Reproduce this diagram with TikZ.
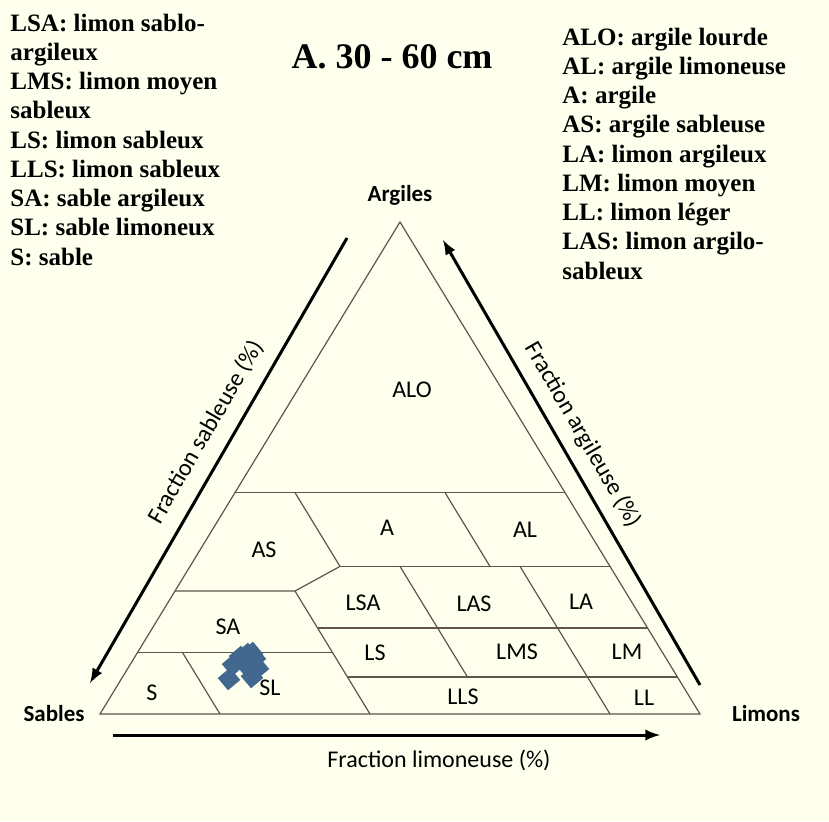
\documentclass[tikz,border=0pt]{standalone}
\usepackage{fontspec}
\setmainfont{Liberation Serif}
\newfontfamily\calibri{Carlito}
\definecolor{fond}{RGB}{255,255,238}
\definecolor{trait}{RGB}{95,85,75}
\definecolor{points}{RGB}{67,104,143}

\begin{document}
\begin{tikzpicture}[x=0.5pt,y=-0.5pt,
    legende/.style={anchor=base west,inner sep=0pt,font=\fontsize{12.5}{14.8}\selectfont\bfseries},
    classe/.style={font=\calibri\fontsize{12}{14}\selectfont},
    sommet/.style={font=\calibri\bfseries\fontsize{11.5}{14}\selectfont},
    axe/.style={->,>=latex,line width=1.5pt},
    limite/.style={draw=trait,line width=0.6pt},
    mesure/.style={fill=points,minimum size=8pt,inner sep=0pt,rotate=40}]
    \fill[fond] (0,0) rectangle (829,821);
    \useasboundingbox (0,0) rectangle (829,821);
    % legendes
    \foreach \ligne [count=\i] in {LSA: limon sablo-, argileux, LMS: limon moyen, sableux,
        LS: limon sableux, LLS: limon sableux, SA: sable argileux, SL: sable limoneux, S: sable}
      \node[legende] (gauche\i) at (10,{31+29.25*(\i-1)}) {\ligne};
    \foreach \ligne [count=\i] in {ALO: argile lourde, AL: argile limoneuse, A: argile,
        AS: argile sableuse, LA: limon argileux, LM: limon moyen, LL: limon léger,
        LAS: limon argilo-, sableux}
      \node[legende] (droite\i) at (562,{45+29.25*(\i-1)}) {\ligne};
    \node[anchor=base,font=\fontsize{18}{20}\selectfont\bfseries] (titre) at (392,68) {A. 30 - 60 cm};
    % triangle
    \coordinate (sables) at (100,714);
    \coordinate (limons) at (700,714);
    \coordinate (argiles) at (400,222);
    \draw[limite] (sables) -- (limons) -- (argiles) -- cycle;
    \draw[limite] (235,492.6) -- (565,492.6);
    \draw[limite] (340,566.4) -- (610,566.4);
    \draw[limite] (175,591) -- (295,591) -- (340,566.4);
    \draw[limite] (295,492.6) -- (340,566.4);
    \draw[limite] (445,492.6) -- (490,566.4);
    \draw[limite] (317.5,628) -- (647.5,628);
    \draw[limite] (137.5,652.5) -- (332.5,652.5);
    \draw[limite] (347.5,677) -- (677.5,677);
    \draw[limite] (295,591) -- (370,714);
    \draw[limite] (182.5,652.5) -- (220,714);
    \draw[limite] (400,566.4) -- (467.5,677);
    \draw[limite] (520,566.4) -- (610,714);
    % classes
    \node[classe] (alo) at (412,390) {ALO};
    \node[classe] (as) at (264,550) {AS};
    \node[classe] (a) at (387,528) {A};
    \node[classe] (al) at (525,530) {AL};
    \node[classe] (sa) at (228,627) {SA};
    \node[classe] (lsa) at (363,603) {LSA};
    \node[classe] (las) at (474,604) {LAS};
    \node[classe] (la) at (581,602) {LA};
    \node[classe] (ls) at (375,653) {LS};
    \node[classe] (lms) at (517,652) {LMS};
    \node[classe] (lm) at (627,652) {LM};
    \node[classe] (s) at (152,693) {S};
    \node[classe] (sl) at (270,688) {SL};
    \node[classe] (lls) at (463,697) {LLS};
    \node[classe] (ll) at (644,698) {LL};
    % points mesures
    \foreach \px/\py [count=\k] in {229/679, 252/677, 233/665, 247/654, 255/658, 258/668,
        247/666, 240/657, 252/653}
      \node[mesure] (m\k) at (\px,\py) {};
    % sommets
    \node[sommet] (nargiles) at (400,195) {Argiles};
    \node[sommet] (nsables) at (54,713) {Sables};
    \node[sommet] (nlimons) at (766,713) {Limons};
    % axes
    \coordinate (sd) at (347,238);
    \coordinate (sf) at (90,683);
    \coordinate (ad) at (700,685);
    \coordinate (af) at (443,240);
    \coordinate (ld) at (113,735);
    \coordinate (lf) at (660,735);
    \draw[axe] (sd) -- (sf);
    \draw[axe] (ad) -- (af);
    \draw[axe] (ld) -- (lf);
    \node[classe,rotate=60] (fsab) at (206,432) {Fraction sableuse (\%)};
    \node[classe,rotate=-60] (farg) at (583,435) {Fraction argileuse (\%)};
    \node[classe] (flim) at (439,760) {Fraction limoneuse (\%)};
  \end{tikzpicture}
\end{document}
